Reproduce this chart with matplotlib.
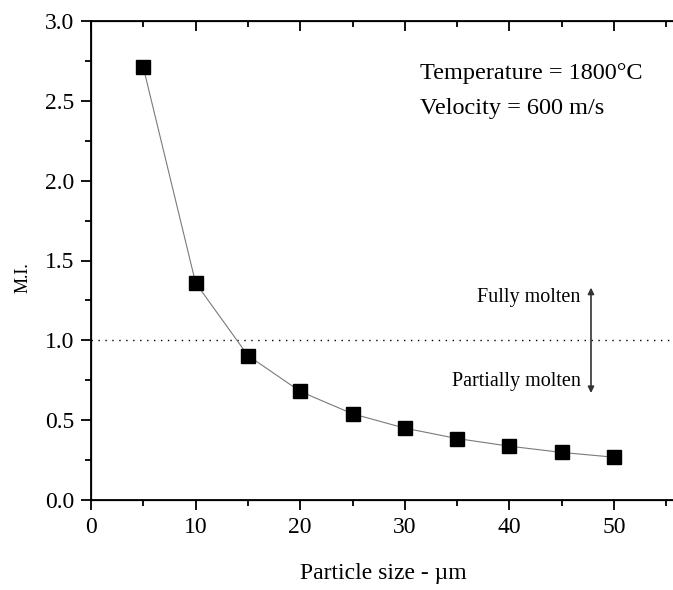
import matplotlib
matplotlib.use('Agg')
import matplotlib.pyplot as plt
from matplotlib.ticker import MultipleLocator, FormatStrFormatter

plt.rcParams['font.family'] = ['Liberation Serif', 'DejaVu Serif']

particle_size = [5, 10, 15, 20, 25, 30, 35, 40, 45, 50]
mi = [2.71, 1.36, 0.905, 0.68, 0.54, 0.45, 0.385, 0.337, 0.298, 0.268]

XMAX = 56.6
PX_PER_UNIT = 10.46

fig = plt.figure(figsize=(6.73, 5.90), dpi=100)
ax_w = XMAX * PX_PER_UNIT
ax = fig.add_axes([91 / 673, 1 - 500 / 590, ax_w / 673, 479 / 590])

ax.plot(particle_size, mi, color='#7a7a7a', lw=0.8, zorder=2)
ax.plot(particle_size, mi, ls='none', marker='s', ms=10, color='black', zorder=3)
ax.axhline(1.0, color='black', lw=1.0, ls=(0, (1, 4)), zorder=1)

ax.set_xlim(0, XMAX)
ax.set_ylim(0, 3.0)
ax.xaxis.set_major_locator(MultipleLocator(10))
ax.xaxis.set_minor_locator(MultipleLocator(5))
ax.yaxis.set_major_locator(MultipleLocator(0.5))
ax.yaxis.set_minor_locator(MultipleLocator(0.25))
ax.yaxis.set_major_formatter(FormatStrFormatter('%.1f'))

for s in ax.spines.values():
    s.set_linewidth(1.3)

ax.tick_params(axis='both', which='major', direction='out', length=7, width=1.3,
               labelsize=17, pad=5)
ax.tick_params(axis='both', which='minor', direction='out', length=4, width=1.3)

# inward ticks on top and right
ax2 = ax.twiny()
ax2.set_xlim(ax.get_xlim())
ax2.xaxis.set_major_locator(MultipleLocator(10))
ax2.xaxis.set_minor_locator(MultipleLocator(5))
ax2.tick_params(axis='x', which='major', direction='in', length=7, width=1.3, labeltop=False)
ax2.tick_params(axis='x', which='minor', direction='in', length=4, width=1.3)
ax3 = ax.twinx()
ax3.set_ylim(ax.get_ylim())
ax3.yaxis.set_major_locator(MultipleLocator(0.5))
ax3.yaxis.set_minor_locator(MultipleLocator(0.25))
ax3.tick_params(axis='y', which='major', direction='in', length=7, width=1.3, labelright=False)
ax3.tick_params(axis='y', which='minor', direction='in', length=4, width=1.3)

ax.set_xlabel('Particle size - µm', fontsize=17)
ax.xaxis.set_label_coords(0.5 * 0 + (383 - 91) / ax_w, (500 - 563) / 479)
fig.text(23 / 673, 1 - 278 / 590, 'M.I.', fontsize=13, rotation=90, ha='center', va='center')

ax.text(31.5, 2.67, 'Temperature = 1800°C', fontsize=17.5, va='center', ha='left')
ax.text(31.5, 2.45, 'Velocity = 600 m/s', fontsize=17.5, va='center', ha='left')

ax.annotate('', xy=(47.8, 1.33), xytext=(47.8, 0.67),
            arrowprops=dict(arrowstyle='<|-|>', color='#333333', lw=1.2,
                            mutation_scale=9, shrinkA=0, shrinkB=0))
ax.text(46.8, 1.27, 'Fully molten', fontsize=14.5, ha='right', va='center')
ax.text(46.8, 0.745, 'Partially molten', fontsize=14.5, ha='right', va='center')

fig.savefig('out.png', dpi=100)
